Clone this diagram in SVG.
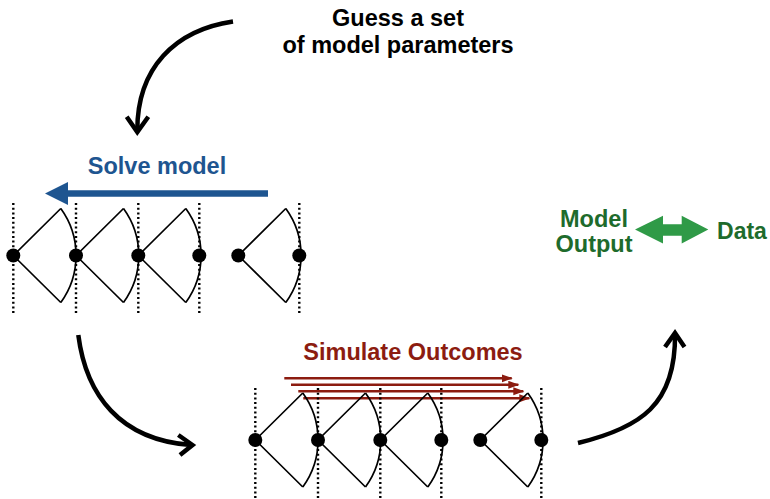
<svg xmlns="http://www.w3.org/2000/svg" width="770" height="499" viewBox="0 0 770 499">
<style>
.t{font-family:"Liberation Sans",Arial,sans-serif;font-weight:bold;text-anchor:middle}
.dot{stroke:#000;stroke-width:2.4;stroke-dasharray:2 2.7;fill:none}
.fan{stroke:#000;stroke-width:1.7;fill:none;stroke-linejoin:round}
.cv{stroke:#000;stroke-width:4.5;fill:none;stroke-linecap:butt}
.hd{stroke:#000;stroke-width:4.5;fill:none;stroke-linecap:butt;stroke-linejoin:miter}
.red{stroke:#8c1c10;stroke-width:2.6;fill:none}
</style>
<defs>
<marker id="rh" markerWidth="12" markerHeight="10" refX="10" refY="4" orient="auto" markerUnits="userSpaceOnUse">
<path d="M0,0 L11,4 L0,8 Z" fill="#8c1c10"/>
</marker>
<g id="fanshape">
<path class="fan" d="M47.5,-47 L0,0 L47.5,47"/>
<path class="fan" d="M47.5,-47 A80,80 0 0 1 47.5,47"/>
</g>
</defs>
<rect width="770" height="499" fill="#fff"/>

<g id="guess">
<text class="t" x="398" y="26" font-size="23.5" fill="#000">Guess a set</text>
<text class="t" x="398" y="53" font-size="23.5" fill="#000">of model parameters</text>
</g>

<g id="solve">
<text class="t" x="157" y="174" font-size="23.5" fill="#1e5590">Solve model</text>
<path d="M268,193.5 L66,193.5" stroke="#1e5590" stroke-width="6.5" fill="none"/>
<path d="M45,193.5 L68,182 L68,205 Z" fill="#1e5590"/>
</g>

<g id="tree-top">
<line class="dot" x1="13.3" y1="203" x2="13.3" y2="315"/>
<line class="dot" x1="76" y1="203" x2="76" y2="315"/>
<line class="dot" x1="138.3" y1="203" x2="138.3" y2="315"/>
<line class="dot" x1="199.3" y1="203" x2="199.3" y2="315"/>
<line class="dot" x1="299.3" y1="203" x2="299.3" y2="315"/>
<use href="#fanshape" x="13.3" y="255.5"/>
<use href="#fanshape" x="76" y="255.5"/>
<use href="#fanshape" x="138.3" y="255.5"/>
<use href="#fanshape" x="238.3" y="255.5"/>
<circle cx="13.3" cy="255.5" r="7"/>
<circle cx="76" cy="255.5" r="7"/>
<circle cx="138.3" cy="255.5" r="7"/>
<circle cx="199.3" cy="255.5" r="7"/>
<circle cx="238.3" cy="255.5" r="7"/>
<circle cx="299.3" cy="255.5" r="7"/>
</g>

<g id="simulate">
<text class="t" x="413" y="360" font-size="23.5" fill="#8c1c10">Simulate Outcomes</text>
<line class="red" x1="284.3" y1="378.3" x2="511.7" y2="378.3" marker-end="url(#rh)"/>
<line class="red" x1="291" y1="384.8" x2="518.3" y2="384.8" marker-end="url(#rh)"/>
<line class="red" x1="298.3" y1="391.3" x2="523.3" y2="391.3" marker-end="url(#rh)"/>
<line class="red" x1="303.3" y1="398.3" x2="529.3" y2="398.3" marker-end="url(#rh)"/>
</g>

<g id="tree-bottom">
<line class="dot" x1="255.3" y1="388" x2="255.3" y2="499"/>
<line class="dot" x1="318" y1="388" x2="318" y2="499"/>
<line class="dot" x1="380.3" y1="388" x2="380.3" y2="499"/>
<line class="dot" x1="441.3" y1="388" x2="441.3" y2="499"/>
<line class="dot" x1="541.3" y1="388" x2="541.3" y2="499"/>
<use href="#fanshape" x="255.3" y="440"/>
<use href="#fanshape" x="318" y="440"/>
<use href="#fanshape" x="380.3" y="440"/>
<use href="#fanshape" x="480.3" y="440"/>
<circle cx="255.3" cy="440" r="7"/>
<circle cx="318" cy="440" r="7"/>
<circle cx="380.3" cy="440" r="7"/>
<circle cx="441.3" cy="440" r="7"/>
<circle cx="480.3" cy="440" r="7"/>
<circle cx="541.3" cy="440" r="7"/>
</g>

<g id="compare">
<text class="t" x="594" y="226.5" font-size="23.5" fill="#1e6b2c">Model</text>
<text class="t" x="594" y="251.5" font-size="23.5" fill="#1e6b2c">Output</text>
<text class="t" x="742" y="238.5" font-size="23" fill="#1e6b2c">Data</text>
<path d="M635,229.5 L663,215.7 L663,224.3 L681.7,224.3 L681.7,215.7 L708.3,229.5 L681.7,243.5 L681.7,235.7 L663,235.7 L663,243.5 Z" fill="#2f9a47"/>
</g>

<g id="connectors">
<path class="cv" d="M233,21.5 C175,30 137,68 137.3,131"/>
<path class="hd" d="M126.7,116.7 L137.3,132 L148.3,116.7"/>
<path class="cv" d="M78.3,335 C86,395 120,440 191,445"/>
<path class="hd" d="M178.3,435 L192.5,445 L180,455"/>
<path class="cv" d="M578,443 C640,428 676,405 675,334"/>
<path class="hd" d="M665,347 L675,333 L684.5,347"/>
</g>
</svg>
